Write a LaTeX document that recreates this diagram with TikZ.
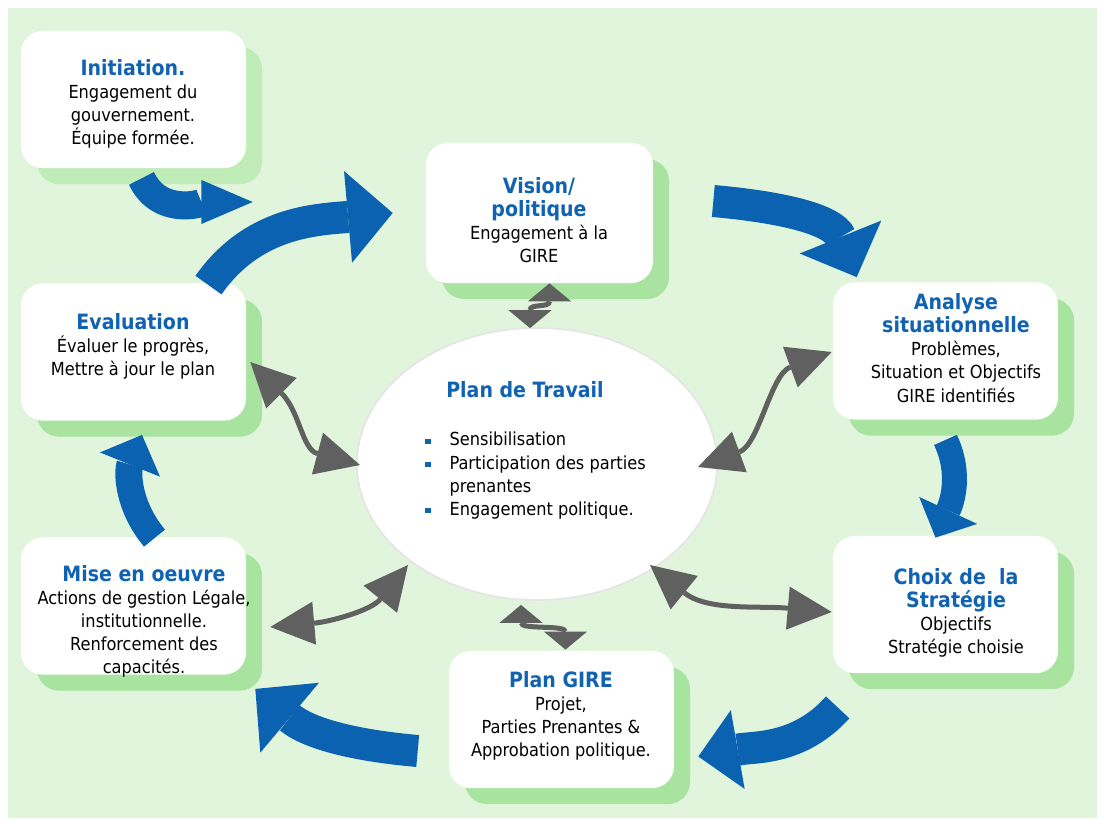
\documentclass[tikz,border=0pt]{standalone}
\usepackage{fontspec}
\setmainfont{DejaVu Sans Condensed}
\usepackage{xcolor}
\usepackage{tikz}
\usetikzlibrary{shapes.geometric, arrows.meta, positioning, calc, shadows}

\definecolor{bggreen}{HTML}{E0F5DC}
\definecolor{shgreen}{HTML}{A8E4A0}
\definecolor{shlight}{HTML}{C0ECB8}
\definecolor{ttlblue}{HTML}{1062B2}
\definecolor{arblue}{HTML}{0B62B0}
\definecolor{argrey}{HTML}{606060}

\newcommand{\hd}[1]{{\fontsize{15}{18}\selectfont\bfseries\color{ttlblue}#1}}
\newcommand{\bul}{\textcolor{ttlblue}{\rule[1.5pt]{3.8pt}{3.8pt}}}

\begin{document}
\begin{tikzpicture}[
    x=0.025cm, y=0.025cm,
    stage/.style={rectangle, rounded corners=0.55cm, fill=white, minimum width=5.625cm, minimum height=3.43cm, inner sep=0pt,
        drop shadow={opacity=1, fill=#1, shadow xshift=0.4cm, shadow yshift=-0.4cm}},
    stage/.default=shgreen,
    txt/.style={align=center, inner sep=0pt, font=\fontsize{12.8}{16.4}\selectfont},
    ttl/.style={inner sep=0pt, font=\fontsize{15}{18}\selectfont\bfseries, text=ttlblue},
    flow/.style={draw=arblue, line width=0.8cm},
    link/.style={draw=argrey, line width=0.125cm,
        {Triangle[length=#1, width=1.08cm, line width=0pt]}-{Triangle[length=#1, width=1.08cm, line width=0pt]}},
    link/.default=1.1cm
]

% frame
\useasboundingbox (0,0) rectangle (1104,-823);
\fill[white] (0,0) rectangle (1104,-823);
\fill[bggreen] (8,-8) rectangle (1097,-818);

% stages
\node[stage=shlight] (init) at (133.5,-99.5) {};
\node[stage, minimum width=5.675cm, minimum height=3.5cm] (vision) at (539.5,-213) {};
\node[stage] (analyse) at (945.5,-351) {};
\node[stage] (eval) at (133.5,-352) {};
\node[stage] (mise) at (133.5,-606) {};
\node[stage] (choix) at (945.5,-604.5) {};
\node[stage] (gire) at (561.5,-719.5) {};

% centre
\node[ellipse, draw=black!10, line width=1.2pt, fill=white, minimum width=9cm, minimum height=6.8cm, inner sep=0pt] (plan) at (537,-464) {};

% texts
\node[txt] (initT) at (133,-104) {\hd{Initiation.}\\Engagement du\\gouvernement.\\Équipe formée.};
\node[txt] (visionT) at (539,-220) {\hd{Vision/}\\\hd{politique}\\Engagement à la\\GIRE};
\node[txt] (analyseT) at (956,-348) {\hd{Analyse}\\\hd{situationnelle}\\Problèmes,\\Situation et Objectifs\\GIRE identifiés};
\node[txt] (evalT) at (133,-346) {\hd{Evaluation}\\Évaluer le progrès,\\Mettre à jour le plan};
\node[txt] (miseT) at (144,-621) {\hd{Mise en oeuvre}\\Actions de gestion Légale,\\institutionnelle.\\Renforcement des\\capacités.};
\node[txt] (choixT) at (956,-613) {\hd{Choix de~ la}\\\hd{Stratégie}\\Objectifs\\Stratégie choisie};
\node[txt] (gireT) at (561,-716) {\hd{Plan GIRE}\\Projet,\\Parties Prenantes \&\\Approbation politique.};

\node[ttl] (planT) at (525,-390) {Plan de Travail};
\node[txt, align=left, anchor=north west] (planL) at (425,-432)
    {\bul\hspace{13.5pt}Sensibilisation\\\bul\hspace{13.5pt}Participation des parties\\\hspace*{17.3pt}prenantes\\\bul\hspace{13.5pt}Engagement politique.};

% cycle arrows
\draw[flow, line width=0.7cm, -{Triangle[length=1.28cm, width=1.1cm, line width=0pt]}]
    ($(init.south)+(8,-10)$) to[out=-65, in=180] ($(vision.west)+(-173,11)$);
\draw[flow, -{Triangle[length=1.12cm, width=2.3cm, line width=0pt]}]
    ($(eval.north)+(75,-2)$) to[out=55, in=185] ($(vision.west)+(-33,0)$);
\draw[flow, -{Triangle[length=1.08cm, width=2.2cm, line width=0pt]}]
    ($(vision.east)+(60,12)$) to[out=-5, in=112] ($(analyse.north west)+(24,5)$);
\draw[flow, line width=0.625cm, -{Triangle[length=0.75cm, width=1.6cm, line width=0pt]}]
    ($(analyse.south)+(0,-20)$) to[out=-65, in=65] ($(choix.north)+(-10,-2)$);
\draw[flow, -{Triangle[length=1cm, width=2cm, line width=0pt]}]
    ($(choix.south west)+(5,-34)$) to[out=228, in=10] ($(gire.east)+(24,-37)$);
\draw[flow, -{Triangle[length=1.12cm, width=2.28cm, line width=0pt]}]
    ($(gire.west)+(-31,-31.5)$) to[out=175, in=-40] ($(mise.south east)+(9,-14)$);
\draw[flow, line width=0.675cm, -{Triangle[length=0.8cm, width=1.62cm, line width=0pt]}]
    ($(mise.north)+(21,-1)$) to[out=130, in=248] ($(eval.south)+(8.5,-14)$);

% links to the work plan
\draw[link=0.45cm] ($(vision.south)+(10,0)$) .. controls +(-90:25) and +(90:25) .. ($(plan.north)+(-7,-1)$);
\draw[link] ($(eval.east)+(4,-10)$) .. controls +(-45:70) and +(165:60) .. ($(plan.center)+(-177,-1)$);
\draw[link] ($(analyse.west)+(-1,-1)$) .. controls +(200:65) and +(20:65) .. ($(plan.center)+(161,-3)$);
\draw[link] ($(mise.east)+(24,-21)$) to[out=5, in=231] ($(plan.center)+(-129,-101)$);
\draw[link] ($(plan.center)+(113,-101)$) to[out=-39, in=175] ($(choix.west)+(-1,-7.5)$);
\draw[link=0.45cm] ($(plan.south)+(-16,-4)$) .. controls +(-90:25) and +(90:25) .. ($(gire.north)+(4,1)$);

\end{tikzpicture}
\end{document}
